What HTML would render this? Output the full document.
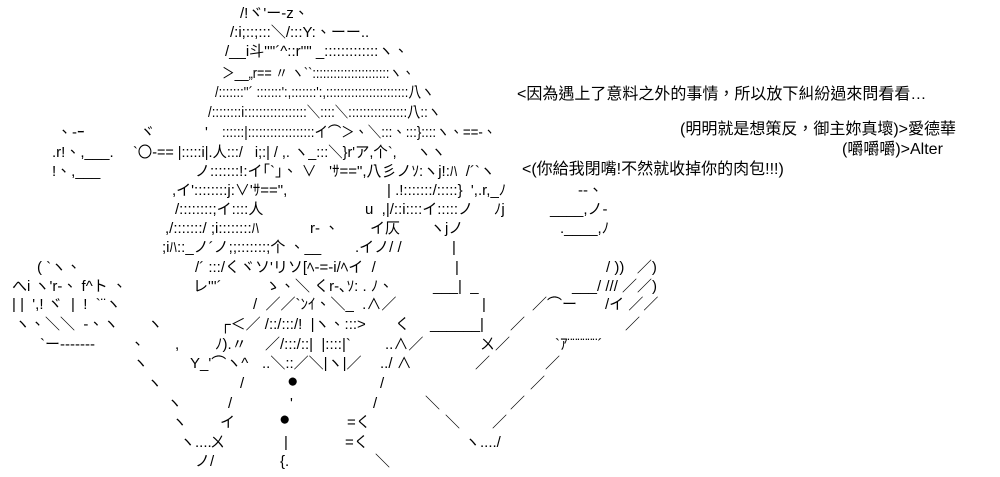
<!DOCTYPE html>
<html><head><meta charset="utf-8">
<style>
html,body{margin:0;padding:0;background:#fff;}
body{width:1000px;height:477px;position:relative;overflow:hidden;
font-family:"Liberation Sans","Noto Sans CJK TC","Noto Sans CJK JP",sans-serif;font-size:15px;color:#000;}
span{position:absolute;white-space:pre;line-height:18px;transform-origin:0 0;}
.s{font-size:16px;}
</style></head><body>
<span style="left:240px;top:5px">/!ヾ'ー-z、</span>
<span style="left:230px;top:24px">/:i;::;:::＼/:::Y:、ーー..</span>
<span style="left:225px;top:43px">/__i斗''"´^::r''" _:::::::::::::ヽ、</span>
<span style="left:222px;top:65px;transform:scaleX(0.84)">＞__„r== 〃 ヽ``::::::::::::::::::::::ヽ、</span>
<span style="left:215px;top:84px;transform:scaleX(0.86)">/:::::::''´ :::::::':,:::::::':,:::::::::::::::::::::::八ヽ</span>
<span style="left:208px;top:104px;transform:scaleX(0.885)">/::::::::i:::::::::::::::::＼::::＼::::::::::::::::八::ヽ</span>

<span style="left:57px;top:124px">、-ｰ</span>
<span style="left:140px;top:124px">ヾ</span>
<span style="left:205px;top:124px">'</span>
<span style="left:222px;top:124px;transform:scaleX(0.89)">::::::|::::::::::::::::::イ⌒＞、＼:::、:::}::::ヽ、==-、</span>

<span style="left:52px;top:144px">.r!、,___.</span>
<span style="left:133px;top:144px;transform:scaleX(0.96)">`〇-== |:::::i|.人:::/   i;:| / ,. ヽ_:::＼}r'ア,个`,     ヽヽ</span>

<span style="left:52px;top:163px">!、,___</span>
<span style="left:195px;top:163px">ノ:::::::!:イ｢`｣、 ∨   'ｻ==",八彡ノｿ:ヽj!:ﾊ  /´`ヽ</span>
<span class="s" style="left:522px;top:161px">&lt;(你給我閉嘴!不然就收掉你的肉包!!!)</span>

<span style="left:172px;top:182px">,イ'::::::::j:∨'ｻ==",</span>
<span style="left:387px;top:182px">| .!:::::::/:::::}  ',.r,_ﾉ</span>
<span style="left:578px;top:182px">--、</span>

<span style="left:175px;top:201px">/::::::::;イ::::人</span>
<span style="left:365px;top:201px">u  ,|/::i::::イ:::::ノ     ﾉj</span>
<span style="left:550px;top:201px">____,ノ-</span>

<span style="left:165px;top:220px">,/:::::::/ ;i::::::::ﾊ</span>
<span style="left:310px;top:220px">r- 、</span>
<span style="left:370px;top:220px">イ仄</span>
<span style="left:430px;top:220px">ヽjノ</span>
<span style="left:560px;top:220px">.____,ﾉ</span>

<span style="left:162px;top:239px">;iﾊ::_ノ´ノ;;:::::::;个 、__</span>
<span style="left:355px;top:239px">.イノ/ /</span>
<span style="left:452px;top:239px">|</span>

<span style="left:37px;top:259px">( `ヽ、</span>
<span style="left:195px;top:259px">/´ :::/くヾソ'リソ[ﾍ-=-i/ﾍイ  /</span>
<span style="left:455px;top:259px">|</span>
<span style="left:606px;top:259px">/ ))   ／)</span>

<span style="left:12px;top:278px">へi ヽ'r-、 f^ト 、</span>
<span style="left:193px;top:278px">レ'''´</span>
<span style="left:265px;top:278px">ゝ、＼ くr-､ｿ: . ﾉ、</span>
<span style="left:433px;top:278px">___|  _</span>
<span style="left:572px;top:278px">___/ /// ／／)</span>

<span style="left:12px;top:296px">| |  ',! ヾ  |  !  `¨ヽ</span>
<span style="left:253px;top:296px">/  ／／`ﾝｲ、＼_  .∧／</span>
<span style="left:482px;top:296px">|</span>
<span style="left:532px;top:296px">／⌒ー</span>
<span style="left:605px;top:296px">/イ ／／</span>

<span style="left:15px;top:316px">ヽ、＼＼  -、ヽ       ヽ</span>
<span style="left:220px;top:316px">┌＜／ /::/:::/!  |ヽ、:::&gt;</span>
<span style="left:395px;top:316px">く</span>
<span style="left:430px;top:316px">______|</span>
<span style="left:510px;top:316px">／</span>
<span style="left:625px;top:316px">／</span>

<span style="left:40px;top:336px">`ー-------</span>
<span style="left:130px;top:336px">、</span>
<span style="left:175px;top:336px">,</span>
<span style="left:215px;top:336px">ﾉ).〃</span>
<span style="left:265px;top:336px">／/:::/::|  |::::|`</span>
<span style="left:385px;top:336px">..∧／</span>
<span style="left:480px;top:336px">ㄨ／</span>
<span style="left:555px;top:336px">`ｱ¨¨¨¨¨¨´</span>

<span style="left:133px;top:355px">ヽ</span>
<span style="left:190px;top:355px">Y_'⌒ヽ^</span>
<span style="left:262px;top:355px">..＼::／＼|ヽ|／</span>
<span style="left:380px;top:355px">../ ∧</span>
<span style="left:475px;top:355px">／</span>
<span style="left:545px;top:355px">／</span>

<span style="left:147px;top:375px">ヽ</span>
<span style="left:240px;top:375px">/</span>
<span style="left:287px;top:373px;font-size:19px">●</span>
<span style="left:380px;top:375px">/</span>
<span style="left:530px;top:375px">／</span>

<span style="left:167px;top:395px">ヽ</span>
<span style="left:228px;top:395px">/</span>
<span style="left:290px;top:395px">'</span>
<span style="left:373px;top:395px">/</span>
<span style="left:425px;top:395px">＼</span>
<span style="left:510px;top:395px">／</span>

<span style="left:172px;top:414px">ヽ</span>
<span style="left:220px;top:414px">イ</span>
<span style="left:279px;top:411px;font-size:19px">●</span>
<span style="left:347px;top:414px">=く</span>
<span style="left:445px;top:414px">＼</span>
<span style="left:492px;top:414px">／</span>

<span style="left:180px;top:434px">ヽ....</span>
<span style="left:210px;top:434px">ㄨ</span>
<span style="left:284px;top:434px">|</span>
<span style="left:345px;top:434px">=く</span>
<span style="left:465px;top:434px">ヽ..../</span>

<span style="left:195px;top:453px">ノ/</span>
<span style="left:280px;top:453px">{.</span>
<span style="left:375px;top:453px">＼</span>

<span class="s" style="left:517px;top:86px">&lt;因為遇上了意料之外的事情，所以放下糾紛過來問看看…</span>
<span class="s" style="left:680px;top:121px">(明明就是想策反，御主妳真壞)&gt;愛德華</span>
<span class="s" style="left:842px;top:141px">(嚼嚼嚼)&gt;Alter</span>
</body></html>
